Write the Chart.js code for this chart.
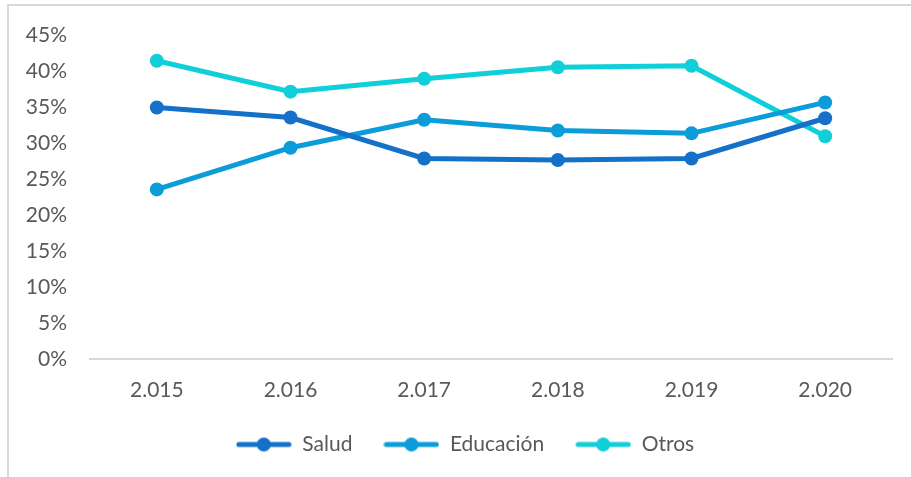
<!DOCTYPE html>
<html>
<head>
<meta charset="utf-8">
<script src="https://cdn.jsdelivr.net/npm/chart.js@4"></script>
<style>
  body { margin: 0; background: #fff; }
  #wrap { position: relative; width: 911px; height: 477px; overflow: hidden; }
  #frame { position: absolute; left: 7px; top: 4px; width: 960px; height: 520px; border: 2px solid #d9d9d9; box-sizing: border-box; }
  canvas { position: absolute; left: 0; top: 0; }
</style>
</head>
<body>
<div id="wrap">
  <div id="frame"></div>
  <canvas id="myChart" width="911" height="477"></canvas>
</div>
<script>
// Years on the x axis
const years = ['2.015', '2.016', '2.017', '2.018', '2.019', '2.020'];

// Share per sector (%)
const salud = [35.0, 33.6, 27.9, 27.7, 27.9, 33.5];
const educacion = [23.6, 29.4, 33.3, 31.8, 31.4, 35.7];
const otros = [41.5, 37.2, 39.0, 40.6, 40.8, 31.0];

const seriesNames = ['Salud', 'Educación', 'Otros'];
const colors = ['#1570c8', '#0b9cd9', '#10cfd9'];

const FONT = 'Lato, "Open Sans", sans-serif';
const GREY = '#595959';

// little line + dot used as legend marker
function legendMarker(color) {
    const c = document.createElement('canvas');
    c.width = 56;
    c.height = 16;
    const g = c.getContext('2d');
    g.strokeStyle = color;
    g.lineWidth = 5;
    g.lineCap = 'round';
    g.beginPath();
    g.moveTo(3, 8);
    g.lineTo(53, 8);
    g.stroke();
    g.fillStyle = color;
    g.beginPath();
    g.arc(28, 8, 7, 0, Math.PI * 2);
    g.fill();
    return c;
}

// the legend in the original sits a bit right of the canvas centre
const nudgeLegend = {
    id: 'nudgeLegend',
    afterLayout(chart) {
        chart.legend.left += 19;
        chart.legend.right += 19;
    }
};

const data = [salud, educacion, otros];
const datasets = seriesNames.map((name, i) => ({
    label: name,
    data: data[i],
    borderColor: colors[i],
    backgroundColor: colors[i],
    borderWidth: 5,
    pointRadius: 7,
    pointHoverRadius: 7,
    pointBorderWidth: 0,
    tension: 0
}));

const ctx = document.getElementById('myChart').getContext('2d');
new Chart(ctx, {
    type: 'line',
    data: { labels: years, datasets: datasets },
    plugins: [nudgeLegend],
    options: {
        responsive: false,
        animation: false,
        events: [],
        layout: { padding: { top: 35, right: 19, bottom: 12, left: 0 } },
        plugins: {
            tooltip: { enabled: false },
            legend: {
                position: 'bottom',
                labels: {
                    usePointStyle: true,
                    pointStyleWidth: 56,
                    padding: 31,
                    color: GREY,
                    font: { family: FONT, size: 21 },
                    generateLabels: chart => chart.data.datasets.map((ds, i) => ({
                        text: ds.label,
                        pointStyle: legendMarker(colors[i]),
                        fontColor: GREY,
                        datasetIndex: i,
                        hidden: false,
                        lineWidth: 0
                    }))
                }
            }
        },
        scales: {
            x: {
                offset: true,
                grid: { display: false, drawTicks: false, tickLength: 0 },
                border: { display: true, color: '#d9d9d9', width: 2 },
                ticks: { color: GREY, padding: 19, font: { family: FONT, size: 21 } },
                afterFit: s => { s.height = 44; }
            },
            y: {
                min: 0,
                max: 45,
                grid: { display: false, drawTicks: false, tickLength: 0 },
                border: { display: false },
                ticks: {
                    stepSize: 5,
                    padding: 23,
                    color: GREY,
                    font: { family: FONT, size: 21 },
                    callback: v => v + '%'
                },
                afterFit: s => { s.width = 90; }
            }
        }
    }
});
</script>
</body>
</html>
